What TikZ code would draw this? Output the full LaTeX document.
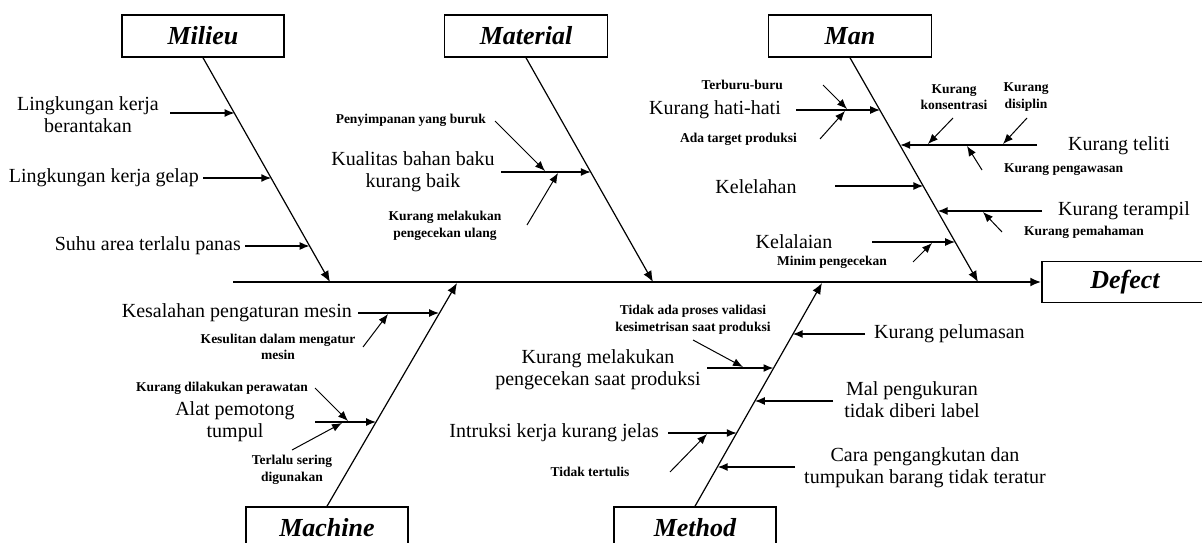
\documentclass[tikz,border=0pt]{standalone}
\usepackage{fontspec}
\setmainfont{Liberation Serif}
\usetikzlibrary{arrows.meta}
\begin{document}
\begin{tikzpicture}[x=1pt,y=-1pt,
  cat/.style={draw, line width=1.5pt, minimum height=42pt, inner sep=0pt,
    font=\fontsize{26}{30}\selectfont\bfseries\itshape},
  big/.style={font=\fontsize{20}{22}\selectfont, align=center, inner sep=1pt},
  sml/.style={font=\fontsize{13.5}{16.5}\selectfont\bfseries, align=center, inner sep=1pt},
  spine/.style={line width=2pt, -{Latex[length=11pt,width=9pt]}},
  bone/.style={line width=1.2pt, -{Latex[length=11pt,width=9pt]}},
  arr/.style={line width=1.5pt, -{Latex[length=10pt,width=8pt]}},
  subarr/.style={line width=1pt, -{Latex[length=10pt,width=8pt]}}]
\useasboundingbox (0,0) rectangle (1202,543);
\clip (0,0) rectangle (1202,543);

% category boxes
\node[cat, minimum width=162pt] (milieu) at (203,36) {Milieu};
\node[cat, minimum width=163pt] (material) at (526,36) {Material};
\node[cat, minimum width=163pt] (man) at (850,36) {Man};
\node[cat, minimum width=162pt] (machine) at (327,528) {Machine};
\node[cat, minimum width=162pt] (method) at (695,528) {Method};
\node[cat, minimum width=166pt, minimum height=41pt] (defect) at (1125,282) {Defect};

% spine
\coordinate (tail) at (233,282);
\draw[spine] (tail) -- (defect.west);

% bones
\coordinate (milT) at (330,282);
\coordinate (matT) at (653,282);
\coordinate (manT) at (978,282);
\coordinate (macT) at (457,283);
\coordinate (metT) at (822,283);
\draw[bone] (milieu.south) -- (milT);
\draw[bone] (material.south) -- (matT);
\draw[bone] (man.south) -- (manT);
\draw[bone] (machine.north) -- (macT);
\draw[bone] (method.north) -- (metT);

% ---------- Milieu ----------
\node[big] (m1) at (88,115) {Lingkungan kerja\\berantakan};
\coordinate (m1s) at (170,113); \coordinate (m1t) at (234.6,113);
\draw[arr] (m1s) -- (m1t);
\node[big, anchor=east] (m2) at (200,178) {Lingkungan kerja gelap};
\coordinate (m2s) at (203,178); \coordinate (m2t) at (271.3,178);
\draw[arr] (m2s) -- (m2t);
\node[big, anchor=east] (m3) at (242,246) {Suhu area terlalu panas};
\coordinate (m3s) at (245,246); \coordinate (m3t) at (309.7,246);
\draw[arr] (m3s) -- (m3t);

% ---------- Material ----------
\node[big] (a1) at (413,172) {Kualitas bahan baku\\kurang baik};
\coordinate (a1s) at (501,172); \coordinate (a1t) at (590.9,172);
\draw[arr] (a1s) -- (a1t);
\node[sml, anchor=east] (a2) at (487,120) {Penyimpanan yang buruk};
\coordinate (a2s) at (495,121); \coordinate (a2t) at (545,171);
\draw[subarr] (a2s) -- (a2t);
\node[sml] (a3) at (445,226) {Kurang melakukan\\pengecekan ulang};
\coordinate (a3s) at (527,225); \coordinate (a3t) at (558,173);
\draw[subarr] (a3s) -- (a3t);

% ---------- Man ----------
\node[big, anchor=east] (n1) at (782,110) {Kurang hati-hati};
\coordinate (n1s) at (796,110); \coordinate (n1t) at (880.2,110);
\draw[arr] (n1s) -- (n1t);
\node[sml, anchor=east] (n2) at (784,85) {Terburu-buru};
\coordinate (n2s) at (823,85); \coordinate (n2t) at (847,109);
\draw[subarr] (n2s) -- (n2t);
\node[sml, anchor=east] (n3) at (798,139) {Ada target produksi};
\coordinate (n3s) at (820,139); \coordinate (n3t) at (845,111);
\draw[subarr] (n3s) -- (n3t);
\node[big, anchor=west] (n4) at (1067,146) {Kurang teliti};
\coordinate (n4s) at (1037,145); \coordinate (n4t) at (900.1,145);
\draw[arr] (n4s) -- (n4t);
\node[sml] (n5) at (954,97) {Kurang\\konsentrasi};
\coordinate (n5s) at (953,118); \coordinate (n5t) at (928,144);
\draw[subarr] (n5s) -- (n5t);
\node[sml] (n6) at (1026,97) {Kurang\\disiplin};
\coordinate (n6s) at (1027,118); \coordinate (n6t) at (1003,144);
\draw[subarr] (n6s) -- (n6t);
\node[sml, anchor=west] (n7) at (1003,170) {Kurang pengawasan};
\coordinate (n7s) at (982,170); \coordinate (n7t) at (967,146);
\draw[subarr] (n7s) -- (n7t);
\node[big] (n8) at (756,187) {Kelelahan};
\coordinate (n8s) at (835,186); \coordinate (n8t) at (923.4,186);
\draw[arr] (n8s) -- (n8t);
\node[big, anchor=west] (n9) at (1057,211) {Kurang terampil};
\coordinate (n9s) at (1042,211); \coordinate (n9t) at (937.6,211);
\draw[arr] (n9s) -- (n9t);
\node[sml, anchor=west] (n10) at (1023,232) {Kurang pemahaman};
\coordinate (n10s) at (1002,232); \coordinate (n10t) at (983,212);
\draw[subarr] (n10s) -- (n10t);
\node[big] (n11) at (794,242) {Kelalaian};
\coordinate (n11s) at (872,242); \coordinate (n11t) at (955.2,242);
\draw[arr] (n11s) -- (n11t);
\node[sml] (n12) at (832,262) {Minim pengecekan};
\coordinate (n12s) at (913,262); \coordinate (n12t) at (932,243);
\draw[subarr] (n12s) -- (n12t);

% ---------- Machine ----------
\node[big, anchor=east] (c1) at (353,313) {Kesalahan pengaturan mesin};
\coordinate (c1s) at (358,313); \coordinate (c1t) at (439.1,313);
\draw[arr] (c1s) -- (c1t);
\node[sml] (c2) at (278,347) {Kesulitan dalam mengatur\\mesin};
\coordinate (c2s) at (363,347); \coordinate (c2t) at (388,314);
\draw[subarr] (c2s) -- (c2t);
\node[sml] (c3) at (222,388) {Kurang dilakukan perawatan};
\coordinate (c3s) at (315,388); \coordinate (c3t) at (348,421);
\draw[subarr] (c3s) -- (c3t);
\node[big] (c4) at (235,422) {Alat pemotong\\tumpul};
\coordinate (c4s) at (315,422); \coordinate (c4t) at (376.1,422);
\draw[arr] (c4s) -- (c4t);
\node[sml] (c5) at (292,470) {Terlalu sering\\digunakan};
\coordinate (c5s) at (292,450); \coordinate (c5t) at (342,423);
\draw[subarr] (c5s) -- (c5t);

% ---------- Method ----------
\node[sml] (t1) at (693,320) {Tidak ada proses validasi\\kesimetrisan saat produksi};
\coordinate (t1s) at (693,340); \coordinate (t1t) at (743,367);
\draw[subarr] (t1s) -- (t1t);
\node[big] (t2) at (598,370) {Kurang melakukan\\pengecekan saat produksi};
\coordinate (t2s) at (707,368); \coordinate (t2t) at (773.5,368);
\draw[arr] (t2s) -- (t2t);
\node[big, anchor=east] (t3) at (660,433) {Intruksi kerja kurang jelas};
\coordinate (t3s) at (668,433); \coordinate (t3t) at (736.8,433);
\draw[arr] (t3s) -- (t3t);
\node[sml] (t4) at (590,472) {Tidak tertulis};
\coordinate (t4s) at (670,472); \coordinate (t4t) at (707,434);
\draw[subarr] (t4s) -- (t4t);
\node[big, anchor=west] (t5) at (873,334) {Kurang pelumasan};
\coordinate (t5s) at (865,334); \coordinate (t5t) at (792.6,334);
\draw[arr] (t5s) -- (t5t);
\node[big] (t6) at (912,400) {Mal pengukuran\\tidak diberi label};
\coordinate (t6s) at (833,401); \coordinate (t6t) at (754.8,401);
\draw[arr] (t6s) -- (t6t);
\node[big] (t7) at (925,468) {Cara pengangkutan dan\\tumpukan barang tidak teratur};
\coordinate (t7s) at (795,467); \coordinate (t7t) at (717.6,467);
\draw[arr] (t7s) -- (t7t);
\end{tikzpicture}
\end{document}
